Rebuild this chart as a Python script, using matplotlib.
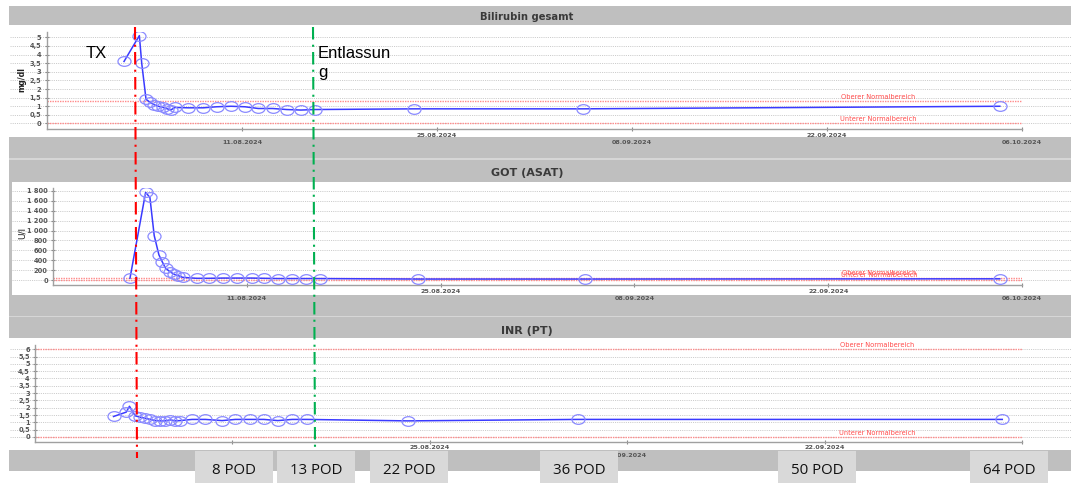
import numpy as np
import pandas as pd
import matplotlib
matplotlib.use('Agg')
import matplotlib.pyplot as plt
from matplotlib.patches import Rectangle
from matplotlib.lines import Line2D
from matplotlib.path import Path
from matplotlib.transforms import Affine2D, blended_transform_factory

W, H = 1071, 483

start = pd.Timestamp('2024-07-28')
end = pd.Timestamp('2024-10-06')

# sample times in days after 28.07.2024
bili_days = [5.53, 6.63, 6.80, 7.11, 7.39, 7.68, 7.99, 8.35, 8.64, 8.88, 9.19, 10.14,
             11.22, 12.18, 13.21, 14.21, 15.17, 16.20, 17.21, 18.23, 19.24, 26.37, 38.46, 68.41]
bili_vals = [3.6, 5.1, 3.5, 1.4, 1.24, 1.09, 1.0, 0.93, 0.85, 0.78, 0.93, 0.91,
             0.91, 0.97, 1.0, 0.97, 0.87, 0.87, 0.81, 0.78, 0.81, 0.85, 0.85, 1.0]

got_days = [5.56, 6.69, 7.00, 7.31, 7.65, 7.89, 8.13, 8.44, 8.73, 9.04, 9.36, 10.37,
            11.28, 12.29, 13.30, 14.34, 15.25, 16.26, 17.27, 18.30, 19.26, 26.40, 38.46, 68.40]
got_vals = [35, 1770, 1670, 900, 510, 370, 240, 170, 120, 90, 55, 35,
            35, 40, 40, 40, 35, 30, 30, 30, 30, 20, 20, 25]

inr_days = [5.57, 6.47, 6.70, 7.10, 7.46, 7.82, 8.17, 8.53, 8.88, 9.24, 9.60, 9.95, 10.30,
            11.14, 12.08, 13.27, 14.21, 15.23, 16.23, 17.22, 18.24, 19.26, 26.42, 38.50, 68.60]
inr_vals = [1.4, 1.7, 2.1, 1.45, 1.35, 1.28, 1.2, 1.12, 1.1, 1.1, 1.17, 1.1, 1.12,
            1.2, 1.2, 1.12, 1.2, 1.2, 1.2, 1.12, 1.2, 1.2, 1.1, 1.2, 1.2]

bili_norm = (0, 1.3)
got_norm = (10, 50)
inr_norm = (0, 6)

bili_ticks = [0, 0.5, 1, 1.5, 2, 2.5, 3, 3.5, 4, 4.5, 5]
bili_ticklabels = ['0', '0,5', '1', '1,5', '2', '2,5', '3', '3,5', '4', '4,5', '5']
got_ticks = [0, 200, 400, 600, 800, 1000, 1200, 1400, 1600, 1800]
got_ticklabels = ['0', '200', '400', '600', '800', '1 000', '1 200', '1 400', '1 600', '1 800']
inr_ticks = [0, 0.5, 1, 1.5, 2, 2.5, 3, 3.5, 4, 4.5, 5, 5.5, 6]
inr_ticklabels = ['0', '0,5', '1', '1,5', '2', '2,5', '3', '3,5', '4', '4,5', '5', '5,5', '6']

date_ticks = ['2024-08-11', '2024-08-25', '2024-09-08', '2024-09-22', '2024-10-06']
date_labels = ['11.08.2024', '25.08.2024', '08.09.2024', '22.09.2024', '06.10.2024']

norm_label_day = 59.7
pod_labels = ['8 POD', '13 POD', '22 POD', '36 POD', '50 POD', '64 POD']
pod_box_x = [195, 277, 370, 540, 778, 970]   # left edge of the label boxes (px)

GRAY = '#bfbfbf'

fig = plt.figure(figsize=(W / 100, H / 100), dpi=100)
fig.patch.set_facecolor('white')


def px_rect(left, top, right, bottom):
    return [left / W, 1 - bottom / H, (right - left) / W, (bottom - top) / H]


def band(x0, y0, x1, y1, color, z=-1):
    fig.add_artist(Rectangle((x0 / W, 1 - y1 / H), (x1 - x0) / W, (y1 - y0) / H,
                             transform=fig.transFigure, facecolor=color,
                             edgecolor='none', zorder=z))


# gray header / footer bands
band(9, 6, W, 25, GRAY)
band(9, 137, W, 182, GRAY)
band(9, 158.5, W, 159.5, '#d6d6d6')
band(9, 182, 12, 295, GRAY)
band(9, 295, W, 338, GRAY)
band(9, 315.5, W, 316.5, '#d6d6d6')
band(9, 450, W, 471, GRAY)

ell = Path.unit_circle().transformed(Affine2D().scale(1.0, 0.74))


def panel(rect, days, vals, ylim, ticks, ticklabels, norm, grid_x0, ypad):
    ax = fig.add_axes(rect)
    ax.patch.set_alpha(0)
    t = start + pd.to_timedelta(np.array(days), unit='D')
    ax.plot(t, vals, color='#3a3aff', lw=1.1, marker=ell, ms=9.4,
            mfc='none', mec='#8a8aff', mew=0.9, zorder=4)
    ax.set_xlim(start, end)
    ax.set_ylim(*ylim)

    # dotted grid running across the whole white area
    blend = blended_transform_factory(fig.transFigure, ax.transData)
    for y in ticks:
        ax.add_artist(Line2D([grid_x0 / W, 1.0], [y, y], transform=blend, clip_on=False,
                             color='#c4c4c4', lw=0.6, ls=(0, (1.3, 1.3)), zorder=1))

    # normal range lines
    for y in norm:
        ax.axhline(y, color='#ff8a8a', lw=1.0, ls=(0, (1, 0.8)), zorder=2)
    lab_t = start + pd.Timedelta(days=norm_label_day)
    ax.annotate('Oberer Normalbereich', xy=(lab_t, norm[1]), xytext=(0, 3.2),
                textcoords='offset points', ha='center', va='center',
                fontsize=4.8, color='#ff4a4a')
    ax.annotate('Unterer Normalbereich', xy=(lab_t, norm[0]), xytext=(0, 3.2),
                textcoords='offset points', ha='center', va='center',
                fontsize=4.8, color='#ff4a4a')

    for s in ['top', 'right']:
        ax.spines[s].set_visible(False)
    for s in ['left', 'bottom']:
        ax.spines[s].set_color('#a0a0a0')
        ax.spines[s].set_linewidth(1.0)

    ax.set_yticks(ticks, ticklabels, fontsize=4.8, fontweight='bold', color='#555555')
    ax.set_xticks(pd.to_datetime(date_ticks), date_labels, fontsize=4.6,
                  fontweight='bold', color='#555555')
    ax.tick_params(axis='both', direction='inout', length=3.5, width=0.8, color='#8a8a8a')
    ax.tick_params(axis='y', pad=ypad)
    for i, tk in enumerate(ax.xaxis.get_major_ticks()):
        tk.set_pad(6.2 if i % 2 == 0 else 1.0)
    return ax


ax1 = panel(px_rect(47, 32, 1022, 129), bili_days, bili_vals, (-0.32, 5.31),
            bili_ticks, bili_ticklabels, bili_norm, 10, 2.5)
ax2 = panel(px_rect(53, 188, 1022, 285), got_days, got_vals, (-100, 1860),
            got_ticks, got_ticklabels, got_norm, 12, 2.0)
ax3 = panel(px_rect(35, 345, 1022, 441.5), inr_days, inr_vals, (-0.31, 6.29),
            inr_ticks, inr_ticklabels, inr_norm, 10, 2.0)

# panel titles and y labels
fig.text(527 / W, 1 - 16.5 / H, 'Bilirubin gesamt', ha='center', va='center',
         fontsize=7.2, fontweight='bold', color='#3a3a3a')
fig.text(527.5 / W, 1 - 173.3 / H, 'GOT (ASAT)', ha='center', va='center',
         fontsize=8, fontweight='bold', color='#3a3a3a')
fig.text(527 / W, 1 - 330.7 / H, 'INR (PT)', ha='center', va='center',
         fontsize=8, fontweight='bold', color='#3a3a3a')
fig.text(21.7 / W, 1 - 79.5 / H, 'mg/dl', rotation=90, ha='center', va='center',
         fontsize=5.7, fontweight='bold', color='#222222')
fig.text(22 / W, 1 - 233 / H, 'U/l', rotation=90, ha='center', va='center',
         fontsize=6.5, color='#222222')

# transplant / discharge markers
fig.add_artist(Line2D([135 / W, 137 / W], [1 - 27 / H, 1 - 458 / H], transform=fig.transFigure,
                      color='#ff0000', lw=1.5, ls=(0, (6, 2.5, 1, 2.5)), zorder=6))
fig.add_artist(Line2D([313 / W, 315 / W], [1 - 27 / H, 1 - 447 / H], transform=fig.transFigure,
                      color='#00b050', lw=1.5, ls=(0, (6, 2.5, 1, 2.5)), zorder=6))
fig.text(86 / W, 1 - 58 / H, 'TX', fontsize=12, family='Liberation Sans', va='baseline')
fig.text(318 / W, 1 - 58 / H, 'Entlassun', fontsize=12, family='Liberation Sans', va='baseline')
fig.text(318 / W, 1 - 77 / H, 'g', fontsize=12, family='Liberation Sans', va='baseline')

# POD boxes
for lab, x0 in zip(pod_labels, pod_box_x):
    band(x0, 451, x0 + 78, H, '#d9d9d9', z=5)
    fig.text((x0 + 39) / W, 1 - 474 / H, lab, ha='center', va='baseline',
             fontsize=10.8, family='Open Sans', color='#111111', zorder=6)

fig.savefig('out.png', dpi=100)
